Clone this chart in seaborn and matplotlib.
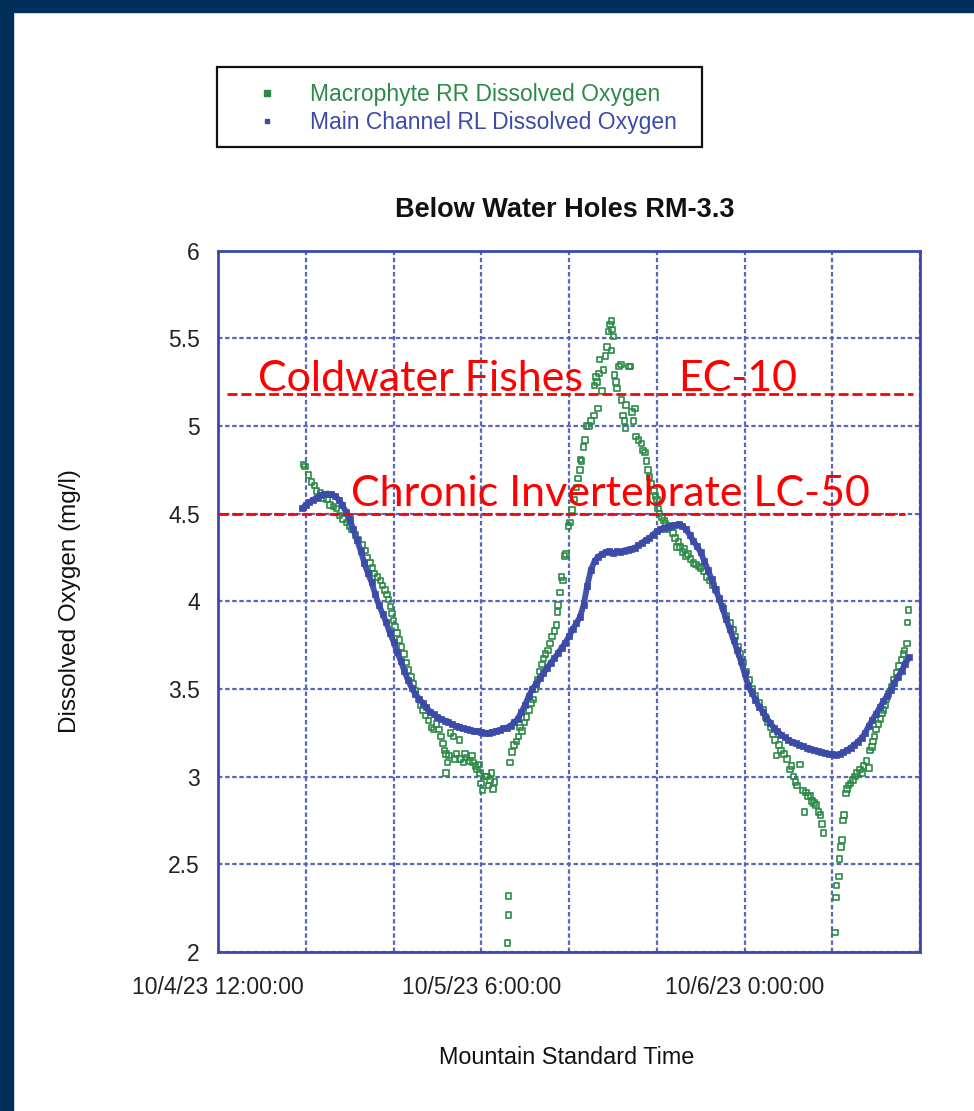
import numpy as np
import pandas as pd
import matplotlib
matplotlib.use("Agg")
import matplotlib.pyplot as plt
import seaborn as sns
from matplotlib.lines import Line2D
from matplotlib.patches import Rectangle

# ---------------- data ----------------
axis_start = pd.Timestamp("2023-10-04 12:00")
axis_end = pd.Timestamp("2023-10-06 12:00")

# Main Channel RL dissolved oxygen, every 15 minutes from 10/4/23 17:45
main_start = pd.Timestamp("2023-10-04 17:45")
main_do = [
    4.53, 4.55, 4.565, 4.58, 4.59, 4.605, 4.61, 4.615, 4.61, 4.60,
    4.58, 4.55, 4.51, 4.47, 4.41, 4.35, 4.29, 4.22, 4.16, 4.11,
    4.04, 3.98, 3.93, 3.88, 3.82, 3.77, 3.71, 3.66, 3.60, 3.55,
    3.505, 3.47, 3.445, 3.42, 3.395, 3.37, 3.355, 3.34, 3.33, 3.32,
    3.31, 3.30, 3.29, 3.285, 3.275, 3.27, 3.265, 3.26, 3.26, 3.255,
    3.25, 3.25, 3.255, 3.26, 3.265, 3.275, 3.28, 3.29, 3.31, 3.33,
    3.37, 3.41, 3.46, 3.50, 3.53, 3.56, 3.59, 3.62, 3.65, 3.675,
    3.705, 3.735, 3.765, 3.80, 3.84, 3.875, 3.91, 3.98, 4.09, 4.18,
    4.23, 4.255, 4.27, 4.28, 4.285, 4.275, 4.285, 4.28, 4.29, 4.295,
    4.30, 4.305, 4.32, 4.335, 4.35, 4.36, 4.38, 4.40, 4.41, 4.42,
    4.425, 4.43, 4.435, 4.44, 4.43, 4.41, 4.38, 4.345, 4.315, 4.28,
    4.23, 4.18, 4.125, 4.07, 4.02, 3.96, 3.90, 3.84, 3.78, 3.72,
    3.66, 3.59, 3.52, 3.48, 3.44, 3.40, 3.37, 3.335, 3.305, 3.28,
    3.26, 3.24, 3.225, 3.21, 3.20, 3.19, 3.18, 3.175, 3.165, 3.16,
    3.15, 3.145, 3.14, 3.135, 3.13, 3.13, 3.125, 3.13, 3.14, 3.15,
    3.165, 3.18, 3.20, 3.22, 3.25, 3.29, 3.325, 3.36, 3.395, 3.43,
    3.46, 3.495, 3.535, 3.57, 3.605, 3.645, 3.68,
]

# Macrophyte RR dissolved oxygen: hours after 10/4/23 12:00 and values
macro_hours = [
    5.85, 5.95, 6.2, 6.4, 6.6, 6.75, 7.0, 7.2, 7.45, 7.65, 7.9, 8.1, 8.3, 8.55,
    8.8, 9.0, 9.15, 9.4, 9.6, 9.85, 10.05, 10.2, 10.4, 10.55, 10.7, 10.9, 11.1,
    11.25, 11.4, 11.55, 11.65, 11.8, 11.9, 12.0, 12.1, 12.25, 12.4, 12.55, 12.7,
    12.85, 13.0, 13.2, 13.35, 13.5, 13.7, 13.85, 14.0, 14.2, 14.4, 14.6, 14.75,
    14.95, 15.1, 15.25, 15.4, 15.5, 15.6, 15.6, 15.7, 15.8, 15.9, 16.1, 16.2,
    16.3, 16.5, 16.55, 16.8, 16.9, 17.0, 17.2, 17.35, 17.45, 17.6, 17.7, 17.85,
    17.9, 18.0, 18.1, 18.25, 18.4, 18.5, 18.6, 18.7, 18.8, 18.9,
    19.8, 19.85, 19.85,
    19.95, 20.1, 20.25, 20.4, 20.55, 20.65, 20.8, 20.95, 21.1, 21.25, 21.4,
    21.55, 21.7, 21.85, 22.0, 22.15, 22.25, 22.4, 22.55, 22.7, 22.85, 23.0,
    23.15, 23.2, 23.25, 23.4, 23.5, 23.6, 23.7, 23.8, 23.96, 24.05, 24.2,
    24.35, 24.5, 24.6, 24.75, 24.8, 24.85, 24.98, 25.1, 25.2, 25.35, 25.5,
    25.7, 25.75, 25.85, 25.9, 26.0, 26.05, 26.1, 26.25, 26.35, 26.5, 26.6,
    26.7, 26.8, 26.9, 26.9, 26.95, 27.05, 27.1, 27.2, 27.3, 27.4, 27.55,
    27.6, 27.7, 27.8, 27.85, 27.9, 28.1, 28.2, 28.3, 28.4, 28.5, 28.6,
    28.75, 28.95, 29.05, 29.2, 29.3, 29.4, 29.5, 29.65, 29.8, 29.9, 30.0,
    30.1, 30.2, 30.35, 30.5, 30.6, 30.7, 30.9, 31.1, 31.25, 31.4, 31.5,
    31.6, 31.75, 31.9, 32.0, 32.15, 32.3, 32.5, 32.7, 32.85, 33.0, 33.2,
    33.4, 33.6, 33.85, 34.1, 34.3, 34.5, 34.75, 35.0, 35.2, 35.35, 35.55,
    35.7, 35.9, 36.1, 36.3, 36.5, 36.75, 37.0, 37.3, 37.45, 37.6, 37.8,
    37.95, 38.1, 38.2, 38.35, 38.5, 38.7, 38.9, 39.1, 39.2, 39.35, 39.5,
    39.6, 39.8, 40.0, 40.1, 40.2, 40.35, 40.5, 40.6, 40.75, 40.9, 41.05,
    41.2, 41.3, 41.4,
    42.2, 42.25, 42.3, 42.45, 42.5, 42.6, 42.65, 42.75, 42.8, 42.95, 43.0,
    43.1, 43.25, 43.4, 43.55, 43.7, 43.9, 44.05, 44.15, 44.35, 44.5, 44.6,
    44.7, 44.8, 44.9, 45.0, 45.15, 45.3, 45.4, 45.5, 45.6, 45.7, 45.85,
    46.05, 46.2, 46.4, 46.55, 46.75, 46.86, 46.95, 47.1, 47.15, 47.2,
]
macro_do = [
    4.78, 4.77, 4.72, 4.68, 4.66, 4.63, 4.62, 4.59, 4.58, 4.55, 4.54, 4.53, 4.49, 4.47,
    4.45, 4.43, 4.41, 4.38, 4.35, 4.32, 4.29, 4.25, 4.22, 4.19, 4.16, 4.14, 4.12,
    4.09, 4.065, 4.04, 4.01, 3.97, 3.93, 3.89, 3.855, 3.82, 3.78, 3.74, 3.70,
    3.65, 3.61, 3.57, 3.53, 3.49, 3.44, 3.41, 3.38, 3.35, 3.32, 3.28, 3.27,
    3.30, 3.27, 3.23, 3.19, 3.15, 3.13, 3.02, 3.08, 3.12, 3.25, 3.23, 3.10,
    3.13, 3.21, 3.10, 3.08, 3.13, 3.11, 3.09, 3.12, 3.08, 3.06, 3.04, 3.07,
    3.02, 2.96, 2.92, 3.00, 3.00, 2.95, 2.98, 3.02, 2.93, 2.97,
    2.05, 2.21, 2.32,
    3.08, 3.14, 3.18, 3.20, 3.23, 3.28, 3.26, 3.31, 3.34, 3.38, 3.42,
    3.44, 3.50, 3.55, 3.60, 3.64, 3.675, 3.70, 3.72, 3.76, 3.80, 3.83,
    3.865, 3.94, 3.98, 4.05, 4.14, 4.12, 4.26, 4.27, 4.43, 4.45, 4.52,
    4.58, 4.65, 4.70, 4.75, 4.81, 4.80, 4.88, 4.92, 5.00, 5.00, 5.03,
    5.06, 5.23, 5.28, 5.25, 5.10, 5.30, 5.38, 5.20, 5.32, 5.40, 5.45,
    5.54, 5.58, 5.60, 5.43, 5.55, 5.51, 5.29, 5.25, 5.215, 5.34, 5.35,
    5.15, 5.06, 5.03, 4.99, 5.12, 5.34, 5.34, 5.08, 5.03, 5.10, 4.94,
    4.92, 4.90, 4.86, 4.85, 4.80, 4.75, 4.71, 4.67, 4.63, 4.60, 4.58,
    4.53, 4.50, 4.48, 4.46, 4.44, 4.41, 4.43, 4.39, 4.36, 4.31, 4.34,
    4.31, 4.28, 4.30, 4.26, 4.27, 4.24, 4.22, 4.21, 4.20, 4.19, 4.17,
    4.14, 4.12, 4.09, 4.065, 4.01, 3.97, 3.92, 3.875, 3.84, 3.80, 3.74,
    3.70, 3.65, 3.60, 3.55, 3.50, 3.46, 3.42, 3.38, 3.34, 3.31, 3.28,
    3.24, 3.21, 3.12, 3.18, 3.15, 3.13, 3.10, 3.04, 3.06, 3.00, 2.97,
    2.95, 3.07, 2.92, 2.80, 2.91, 2.89, 2.89, 2.86, 2.85, 2.84, 2.80,
    2.78, 2.73, 2.68,
    2.11, 2.31, 2.38, 2.43, 2.53, 2.60, 2.64, 2.75, 2.78, 2.905, 2.93,
    2.95, 2.96, 2.98, 3.00, 3.02, 3.04, 3.02, 3.06, 3.09, 3.05, 3.15,
    3.17, 3.20, 3.23, 3.27, 3.30, 3.33, 3.36, 3.38, 3.41, 3.44, 3.47,
    3.51, 3.55, 3.59, 3.63, 3.665, 3.70, 3.72, 3.76, 3.88, 3.95,
]

series_labels = ["Macrophyte RR Dissolved Oxygen", "Main Channel RL Dissolved Oxygen"]
x_tick_labels = ["10/4/23 12:00:00", "", "", "10/5/23 6:00:00", "", "",
                 "10/6/23 0:00:00", "", ""]
y_ticks = [2, 2.5, 3, 3.5, 4, 4.5, 5, 5.5, 6]
y_tick_labels = ["2", "2.5", "3", "3.5", "4", "4.5", "5", "5.5", "6"]
coldwater_level = 5.18
chronic_level = 4.5

# ---------------- frames ----------------
main_df = pd.DataFrame({
    "time": pd.date_range(main_start, periods=len(main_do), freq="15min"),
    "do": main_do,
})
macro_df = pd.DataFrame({
    "time": axis_start + pd.to_timedelta(macro_hours, unit="h"),
    "do": macro_do,
})

# ---------------- style ----------------
sns.set_style("white")
plt.rcParams["font.family"] = ["Liberation Sans", "DejaVu Sans"]

GREEN = "#2b8a47"
BLUE = "#3c4aa8"
GRID = "#5866b8"
RED = "#ff0000"
NAVY = "#00305a"

fig = plt.figure(figsize=(9.74, 11.11), dpi=100)
ax = fig.add_axes([218 / 974, 1 - 952 / 1111, (920 - 218) / 974, (952 - 250.7) / 1111])

sns.scatterplot(data=macro_df, x="time", y="do", ax=ax, marker="s", s=16,
                facecolors="none", edgecolor=GREEN, linewidth=1.2, zorder=3)
# dense logger points of the main channel read as a thick dotted band
sns.lineplot(data=main_df, x="time", y="do", ax=ax, color=BLUE, linewidth=4.2,
             alpha=0.95, zorder=4)
sns.scatterplot(data=main_df, x="time", y="do", ax=ax, marker="s", s=14,
                color=BLUE, edgecolor=BLUE, linewidth=0.5, zorder=4)

ax.set_xlim(axis_start, axis_end)
ax.set_ylim(2, 6)
ax.set_xticks(pd.date_range(axis_start, axis_end, freq="6h")[:len(x_tick_labels)].tolist()
              + [axis_end])
ax.set_xticklabels(x_tick_labels + [""])
ax.set_yticks(y_ticks)
ax.set_yticklabels(y_tick_labels)
ax.tick_params(axis="both", length=0, labelsize=16.5, labelcolor="#222222")
ax.tick_params(axis="x", pad=17)
ax.tick_params(axis="y", pad=13)

ax.grid(True, color=GRID, linestyle=(0, (2.0, 1.2)), linewidth=1.6)
ax.set_axisbelow(True)
for sp in ax.spines.values():
    sp.set_color(BLUE)
    sp.set_linewidth(2)
    sp.set_visible(True)

ax.set_xlabel("Mountain Standard Time", fontsize=16.8, color="#111111", va="center")
ax.xaxis.set_label_coords(0.497, -(1058 - 952) / 701.3)
ax.set_ylabel("Dissolved Oxygen (mg/l)", fontsize=17.5, color="#111111", va="center")
ax.yaxis.set_label_coords((70 - 218) / 702, 0.5)
ax.set_title("Below Water Holes RM-3.3", fontsize=19.5, fontweight="bold",
             color="#111111", pad=24, x=0.494)

# threshold lines and labels
ax.axhline(coldwater_level, xmin=(227 - 218) / 702, xmax=(913 - 218) / 702,
           color=RED, linewidth=2, linestyle=(0, (3.6, 1.4)), zorder=5)
ax.axhline(chronic_level, xmin=0, xmax=(905 - 218) / 702,
           color=RED, linewidth=2, linestyle=(0, (3.6, 1.4)), zorder=5)
red_font = dict(color=RED, fontsize=31, family=["Lato", "DejaVu Sans"], va="baseline", zorder=6)
ax.text(axis_start + pd.Timedelta(hours=2.74), 5.20, "Coldwater Fishes", **red_font)
ax.text(axis_start + pd.Timedelta(hours=31.45), 5.20, "EC-10", **red_font)
ax.text(axis_start + pd.Timedelta(hours=9.1), 4.545, "Chronic Invertebrate LC-50", **red_font)

# legend
handles = [
    Line2D([], [], marker="s", linestyle="", color=GREEN, markersize=4),
    Line2D([], [], marker="s", linestyle="", color=BLUE, markersize=3.5),
]
leg = ax.legend(handles, series_labels, loc="center left",
                bbox_to_anchor=(244 / 974, 1 - 108.5 / 1111), bbox_transform=fig.transFigure,
                frameon=False, fontsize=16.5, handlelength=2.0, handletextpad=0.88,
                borderpad=0, labelspacing=0.2, borderaxespad=0)
for txt, c in zip(leg.get_texts(), [GREEN, BLUE]):
    txt.set_color(c)
fig.add_artist(Rectangle((217 / 974, 1 - 147 / 1111), (702 - 217) / 974, 80 / 1111,
                         transform=fig.transFigure, fill=False, edgecolor="#111111",
                         linewidth=1.6))

# slide frame
fig.add_artist(Rectangle((0, 1 - 12 / 1111), 1, 12 / 1111, transform=fig.transFigure,
                         color=NAVY, zorder=10))
fig.add_artist(Rectangle((0, 0), 13 / 974, 1, transform=fig.transFigure,
                         color=NAVY, zorder=10))

fig.savefig("out.png", dpi=100, facecolor="white")
